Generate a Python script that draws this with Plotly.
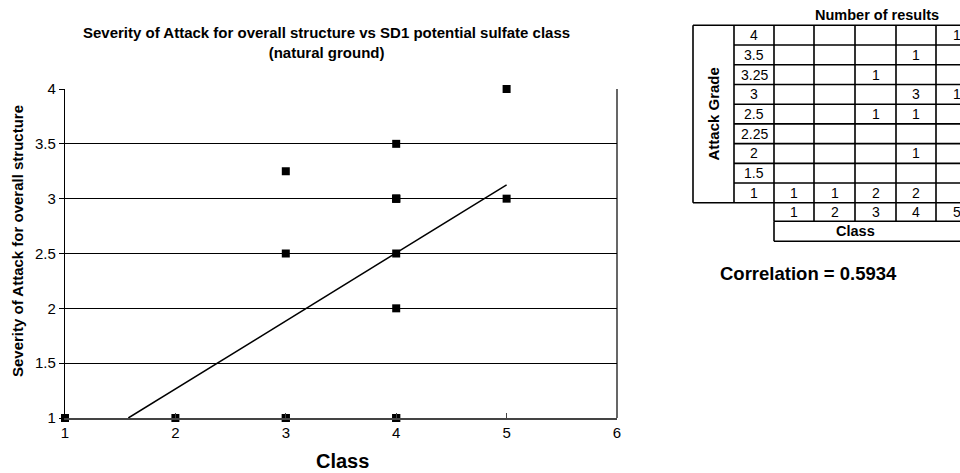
import numpy as np
import plotly.graph_objects as go

grades = [4, 3.5, 3.25, 3, 2.5, 2.25, 2, 1.5, 1]
classes = [1, 2, 3, 4, 5]
# counts[grade_index][class_index]
counts = [
    [0, 0, 0, 0, 1],
    [0, 0, 0, 1, 0],
    [0, 0, 1, 0, 0],
    [0, 0, 0, 3, 1],
    [0, 0, 1, 1, 0],
    [0, 0, 0, 0, 0],
    [0, 0, 0, 1, 0],
    [0, 0, 0, 0, 0],
    [1, 1, 2, 2, 0],
]
x_ticks = [1, 2, 3, 4, 5, 6]
y_ticks = [1, 1.5, 2, 2.5, 3, 3.5, 4]
title_text = "Severity of Attack for overall structure vs SD1 potential sulfate class<br>(natural ground)"
ytitle = "Severity of Attack for overall structure"
xtitle = "Class"
corr_label = "Correlation = 0.5934"

# expand counts to points
px_, py_ = [], []
for gi, g in enumerate(grades):
    for ci, c in enumerate(classes):
        for _ in range(counts[gi][ci]):
            px_.append(c)
            py_.append(g)
px_ = np.array(px_, float)
py_ = np.array(py_, float)
slope, intercept = np.polyfit(px_, py_, 1)
x_start = (1 - intercept) / slope
line_x = [x_start, max(classes)]
line_y = [intercept + slope * v for v in line_x]

FONT = "Liberation Sans, Arial, sans-serif"

# page geometry (body margin removed by post_script, so page px == figure px)
W, H = 960, 473
L, R, T, B = 65, 617, 89, 418   # plot area in pixels

def pxx(x):
    return (x - L) / (R - L)

def pxy(y):
    return (B - y) / (B - T)

fig = go.Figure()
fig.add_trace(go.Scatter(x=line_x, y=line_y, mode="lines",
                         line=dict(color="black", width=1.5),
                         hoverinfo="skip", showlegend=False))
fig.add_trace(go.Scatter(x=px_, y=py_, mode="markers",
                         marker=dict(symbol="square", size=8, color="black"),
                         cliponaxis=False, showlegend=False))

shapes = []
annotations = []

# right border of plot
shapes.append(dict(type="line", xref="paper", yref="paper", x0=1, x1=1, y0=0, y1=1,
                   line=dict(color="black", width=1.2)))

# ---- table ----
lw = 1.6
x_outer = 693
x_grade = 734
col_edges = [774, 814, 855, 896, 936, 977]
row_top = 25.3
row_h = 19.72
n_rows = len(grades)
row_bot = row_top + n_rows * row_h
class_row_bot = row_bot + 18.5
class_title_bot = class_row_bot + 20

def hline(x0, x1, y):
    shapes.append(dict(type="line", xref="paper", yref="paper",
                       x0=pxx(x0), x1=pxx(x1), y0=pxy(y), y1=pxy(y),
                       line=dict(color="black", width=lw)))

def vline(x, y0, y1):
    shapes.append(dict(type="line", xref="paper", yref="paper",
                       x0=pxx(x), x1=pxx(x), y0=pxy(y0), y1=pxy(y1),
                       line=dict(color="black", width=lw)))

def text(x, y, s, size=12, bold=False, angle=0, xanchor="center"):
    annotations.append(dict(xref="paper", yref="paper", x=pxx(x), y=pxy(y),
                            text=("<b>%s</b>" % s) if bold else s,
                            showarrow=False, xanchor=xanchor, yanchor="middle",
                            textangle=angle,
                            font=dict(family=FONT, size=size, color="black")))

# grade rows
for i in range(n_rows + 1):
    hline(x_grade if 0 < i < n_rows else x_outer, col_edges[-1], row_top + i * row_h)
vline(x_outer, row_top, row_bot)
vline(x_grade, row_top, row_bot)
for ce in col_edges:
    vline(ce, row_top, class_row_bot)
hline(col_edges[0], col_edges[-1], class_row_bot)
vline(col_edges[0], class_row_bot, class_title_bot)
hline(col_edges[0], col_edges[-1], class_title_bot)

for i, g in enumerate(grades):
    cy = row_top + (i + 0.5) * row_h
    text((x_grade + col_edges[0]) / 2, cy, str(g), size=14)
    for ci in range(len(classes)):
        v = counts[i][ci]
        if v:
            text((col_edges[ci] + col_edges[ci + 1]) / 2, cy, str(v), size=14)
for ci, c in enumerate(classes):
    text((col_edges[ci] + col_edges[ci + 1]) / 2, (row_bot + class_row_bot) / 2, str(c), size=14)
text(855, (class_row_bot + class_title_bot) / 2, "Class", size=14.5, bold=True)
text(877, 15, "Number of results", size=14.5, bold=True)
text((x_outer + x_grade) / 2, (row_top + row_bot) / 2, "Attack Grade", size=15, bold=True, angle=-90)
text(718, 273, corr_label, size=18.5, bold=True, xanchor="left")

# chart titles
text(326, 43, title_text, size=15, bold=True)
text(18, 241, ytitle, size=15, bold=True, angle=-90)
text(342, 461, xtitle, size=20, bold=True)

fig.update_layout(
    width=W, height=H,
    margin=dict(l=L, r=W - R, t=T, b=H - B, pad=0),
    paper_bgcolor="white", plot_bgcolor="white",
    showlegend=False,
    shapes=shapes, annotations=annotations,
    font=dict(family=FONT, color="black"),
    xaxis=dict(range=[1, 6], tickvals=x_ticks, ticktext=[str(v) for v in x_ticks],
               showgrid=False, zeroline=False,
               showline=True, linecolor="#444", linewidth=1.5,
               ticks="inside", ticklen=5, tickcolor="#444",
               tickfont=dict(size=15, family=FONT, color="black")),
    yaxis=dict(range=[1, 4], tickvals=y_ticks, ticktext=[("%g" % v) for v in y_ticks],
               showgrid=True, gridcolor="black", gridwidth=1,
               zeroline=False, showline=True, linecolor="black", linewidth=1.2,
               ticks="outside", ticklen=5, tickcolor="black",
               tickfont=dict(size=15, family=FONT, color="black")),
)

fig.write_html(
    "out.html",
    config={"displayModeBar": False},
    post_script="document.body.style.margin='0';document.body.style.overflow='hidden';",
)
